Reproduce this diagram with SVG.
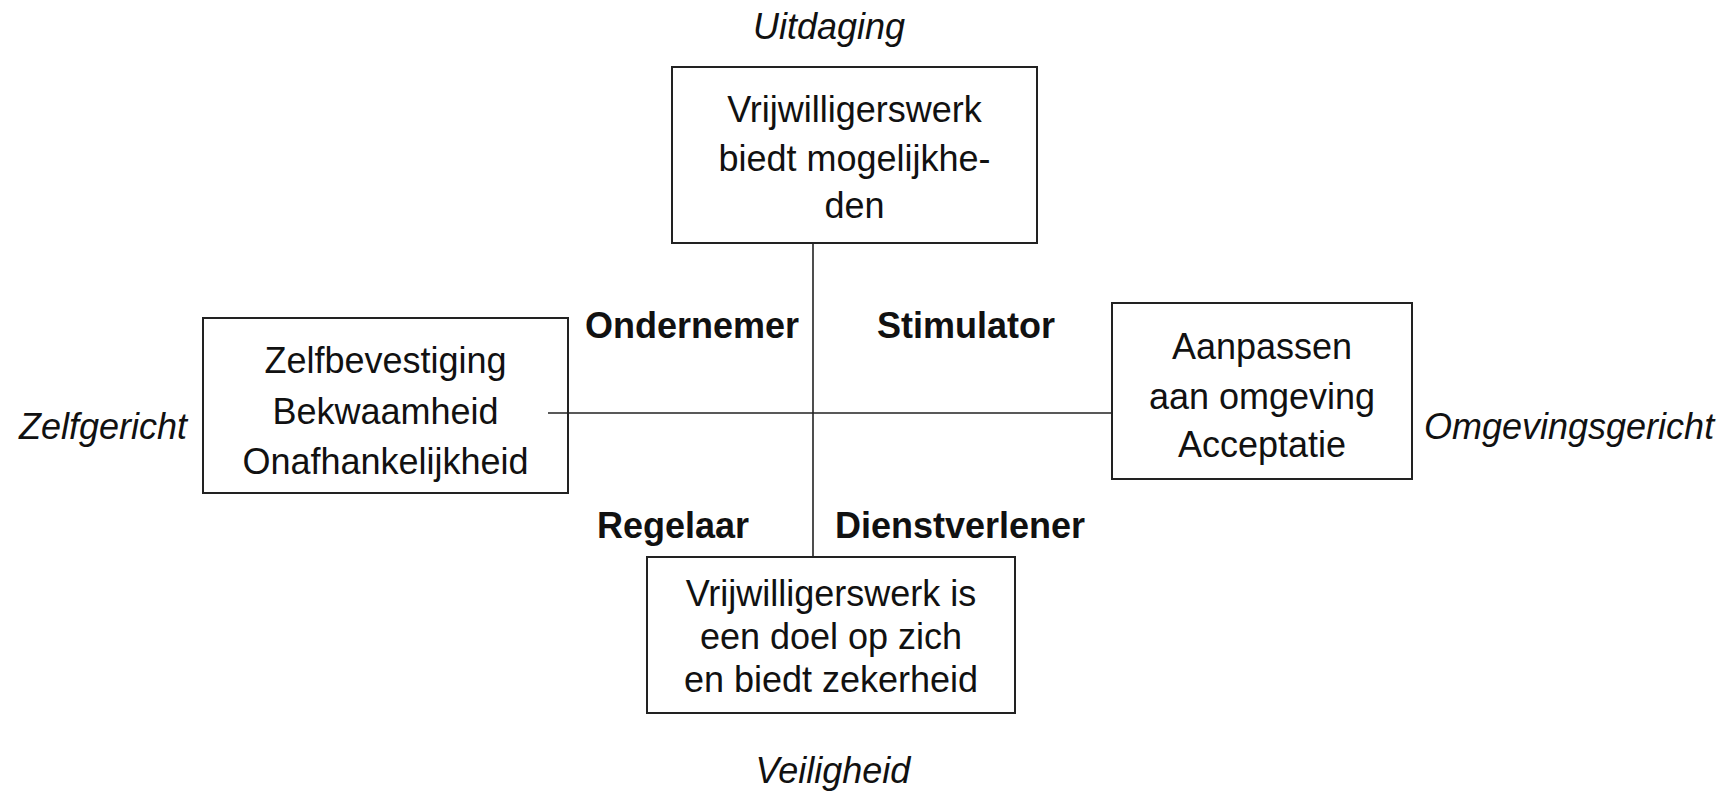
<svg xmlns="http://www.w3.org/2000/svg" width="1729" height="793" viewBox="0 0 1729 793">
<style>
text{font-family:"Liberation Sans",Arial,sans-serif;font-size:36px;fill:#111}
.it{font-style:italic}
.b{font-weight:bold}
.c{text-anchor:middle}
.box{fill:#fff;stroke:#222;stroke-width:2}
.ln{stroke:#222;stroke-width:1.6;fill:none}
</style>
<rect width="1729" height="793" fill="#fff"/>
<g id="top">
<rect class="box" x="672" y="67" width="365" height="176"/>
<text class="c" x="854.5" y="122">Vrijwilligerswerk</text>
<text class="c" x="854.5" y="171">biedt mogelijkhe-</text>
<text class="c" x="854.5" y="218">den</text>
</g>
<g id="left">
<rect class="box" x="203" y="318" width="365" height="175"/>
<text class="c" x="385.5" y="373">Zelfbevestiging</text>
<text class="c" x="385.5" y="424">Bekwaamheid</text>
<text class="c" x="385.5" y="474">Onafhankelijkheid</text>
</g>
<g id="right">
<rect class="box" x="1112" y="303" width="300" height="176"/>
<text class="c" x="1262" y="359">Aanpassen</text>
<text class="c" x="1262" y="409">aan omgeving</text>
<text class="c" x="1262" y="457">Acceptatie</text>
</g>
<g id="bottom">
<rect class="box" x="647" y="557" width="368" height="156"/>
<text class="c" x="831" y="606">Vrijwilligerswerk is</text>
<text class="c" x="831" y="649">een doel op zich</text>
<text class="c" x="831" y="692">en biedt zekerheid</text>
</g>
<g id="connectors">
<line class="ln" x1="813" y1="243" x2="813" y2="557"/>
<line class="ln" x1="548" y1="413" x2="1112" y2="413"/>
</g>
<g id="labels">
<text class="it c" x="829" y="39">Uitdaging</text>
<text class="it c" x="833" y="783">Veiligheid</text>
<text class="it" x="19" y="439">Zelfgericht</text>
<text class="it" x="1424" y="439">Omgevingsgericht</text>
<text class="b" x="585" y="338">Ondernemer</text>
<text class="b" x="877" y="338">Stimulator</text>
<text class="b" x="597" y="538">Regelaar</text>
<text class="b" x="835" y="538">Dienstverlener</text>
</g>
</svg>
